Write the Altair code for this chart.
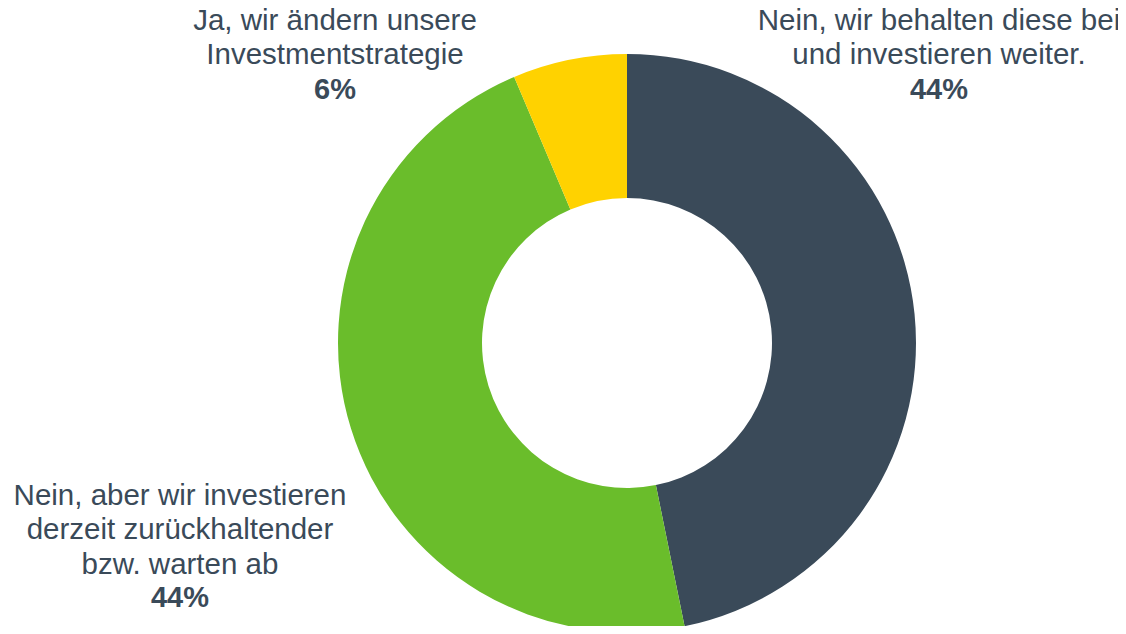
import altair as alt
import pandas as pd

categories = [
    "Nein, wir behalten diese bei und investieren weiter.",
    "Nein, aber wir investieren derzeit zurückhaltender bzw. warten ab",
    "Ja, wir ändern unsere Investmentstrategie",
]
label_lines = [
    "Nein, wir behalten diese bei\nund investieren weiter.",
    "Nein, aber wir investieren\nderzeit zurückhaltender\nbzw. warten ab",
    "Ja, wir ändern unsere\nInvestmentstrategie",
]
values = [44, 44, 6]
pct_labels = ["44%", "44%", "6%"]
colors = ["#3a4a59", "#6abd2b", "#ffd200"]

df = pd.DataFrame({
    "category": categories,
    "label": label_lines,
    "value": values,
    "pct": pct_labels,
    "order": list(range(len(categories))),
})

FONT = "Liberation Sans"
TXT = "#3a4a59"
CX, CY = 619, 335

base = alt.Chart(df)

arc = base.mark_arc(outerRadius=289, innerRadius=145, x=CX, y=CY).encode(
    theta=alt.Theta("value:Q", stack=True),
    order=alt.Order("order:Q"),
    color=alt.Color("category:N", scale=alt.Scale(domain=categories, range=colors), legend=None),
)

def label_layer(cat, x, y_text, y_pct):
    t = base.transform_filter(alt.datum.category == cat).mark_text(
        font=FONT, fontSize=29.5, color=TXT, lineBreak="\n", lineHeight=34.3,
        align="center", baseline="middle",
    ).encode(text="label:N", x=alt.value(x), y=alt.value(y_text))
    p = base.transform_filter(alt.datum.category == cat).mark_text(
        font=FONT, fontSize=29, fontWeight="bold", color=TXT,
        align="center", baseline="middle",
    ).encode(text="pct:N", x=alt.value(x), y=alt.value(y_pct))
    return t + p

labels_a = label_layer(categories[0], 931, 13, 82)
labels_b = label_layer(categories[1], 172, 488, 590)
labels_c = label_layer(categories[2], 327, 13, 82)

chart = alt.layer(arc, labels_a, labels_b, labels_c).properties(
    width=1110, height=618, padding=0, autosize="none",
).configure_view(stroke=None)

chart.save("out.html", embed_options={"renderer": "svg", "actions": False})
